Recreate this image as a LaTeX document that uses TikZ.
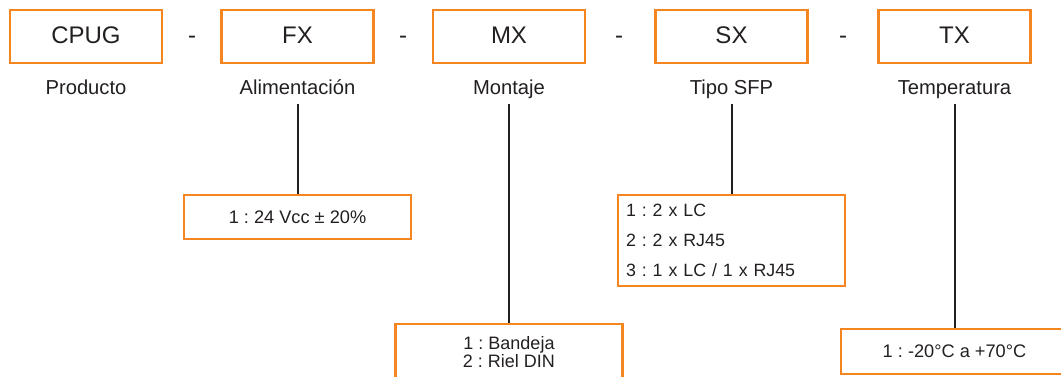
\documentclass[tikz,border=0pt]{standalone}
\usepackage{fontspec}
\setmainfont{Liberation Sans}
\usepackage{tikz}
\usetikzlibrary{positioning}
\definecolor{codeorange}{RGB}{245,134,31}
\definecolor{inkgray}{RGB}{35,31,32}
\frenchspacing

\begin{document}
\begin{tikzpicture}[x=1pt,y=-1pt,
  every node/.append style={text=inkgray},
  codebox/.style={draw=codeorange,line width=2.7pt,minimum width=152pt,minimum height=53pt,text height=17.2pt,text depth=3.8pt,font=\fontsize{24}{28}\selectfont},
  sepdash/.style={text height=17.2pt,text depth=3.8pt,font=\fontsize{24}{28}\selectfont},
  caption/.style={anchor=base,text depth=4pt,inner sep=5.7pt,font=\fontsize{20.2}{24}\selectfont},
  optbox/.style={draw=codeorange,line width=2.7pt,minimum width=227pt,inner xsep=8pt,font=\fontsize{18.2}{21}\selectfont},
  stem/.style={draw=inkgray,line width=2pt}]
\useasboundingbox (0,0) rectangle (1061,376);
\clip (0,0) rectangle (1061,376);

\node[codebox] (cpug) at (86,36.5) {CPUG};
\node[codebox] (fx) at (297.5,36.5) {FX};
\node[codebox] (mx) at (509,36.5) {MX};
\node[codebox] (sx) at (731.5,36.5) {SX};
\node[codebox] (tx) at (954.5,36.5) {TX};

\node[sepdash] (d1) at (192,36.5) {-};
\node[sepdash] (d2) at (403,36.5) {-};
\node[sepdash] (d3) at (619,36.5) {-};
\node[sepdash] (d4) at (843,36.5) {-};

\node[caption] (cpugcap) at (86,94.3) {Producto};
\node[caption] (fxcap) at (297.5,94.3) {Alimentación};
\node[caption] (mxcap) at (509,94.3) {Montaje};
\node[caption] (sxcap) at (731.5,94.3) {Tipo SFP};
\node[caption] (txcap) at (954.5,94.3) {Temperatura};

\node[optbox,minimum height=44pt] (fxopt) at (297.5,217) {1 : 24 Vcc ± 20\%};
\node[optbox,minimum height=91pt,text width=211pt,align=left,font=\fontsize{17.8}{29.7}\selectfont] (sxopt) at (731.5,240.5) {1 : 2 x LC\\2 : 2 x RJ45\\3 : 1 x LC / 1 x RJ45};
\node[optbox,minimum height=55.8pt,align=center,font=\fontsize{18}{17.4}\selectfont] (mxopt) at (509,351.9) {1 : Bandeja\\2 : Riel DIN};
\node[optbox,minimum height=45pt] (txopt) at (954.5,351.5) {1 : -20°C a +70°C};

\draw[stem] (fxcap.south) -- (fxopt.north);
\draw[stem] (mxcap.south) -- (mxopt.north);
\draw[stem] (sxcap.south) -- (sxopt.north);
\draw[stem] (txcap.south) -- (txopt.north);
\end{tikzpicture}
\end{document}
